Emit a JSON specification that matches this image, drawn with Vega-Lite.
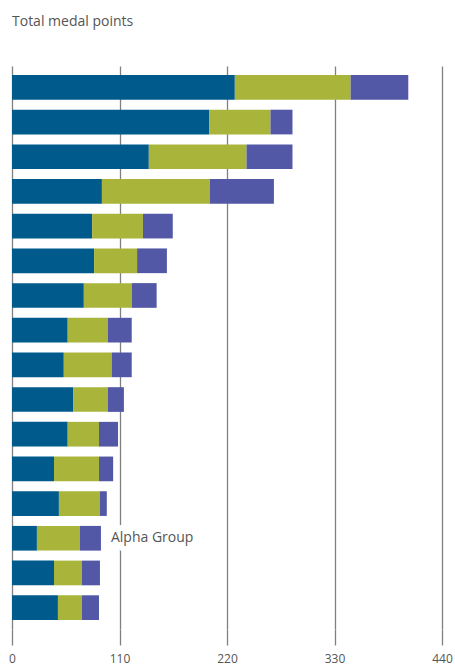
{
  "$schema": "https://vega.github.io/schema/vega-lite/v6.json",
  "width": 430,
  "height": 563,
  "autosize": "none",
  "padding": {"left": 12, "top": 66, "right": 13, "bottom": 38},
  "background": "white",
  "title": {
    "text": "Total medal points",
    "anchor": "start",
    "frame": "group",
    "orient": "top",
    "offset": 26,
    "baseline": "alphabetic",
    "font": "Open Sans",
    "fontSize": 14,
    "fontWeight": "normal",
    "color": "#555555"
  },
  "config": {
    "view": {"stroke": null},
    "font": "Open Sans"
  },
  "data": {
    "values": [
      {"team": "Team 1", "medal": "Gold", "points": 228},
      {"team": "Team 1", "medal": "Silver", "points": 118.5},
      {"team": "Team 1", "medal": "Bronze", "points": 59},
      {"team": "Team 2", "medal": "Gold", "points": 202},
      {"team": "Team 2", "medal": "Silver", "points": 62.5},
      {"team": "Team 2", "medal": "Bronze", "points": 22.5},
      {"team": "Team 3", "medal": "Gold", "points": 140},
      {"team": "Team 3", "medal": "Silver", "points": 100},
      {"team": "Team 3", "medal": "Bronze", "points": 47},
      {"team": "Team 4", "medal": "Gold", "points": 92},
      {"team": "Team 4", "medal": "Silver", "points": 110.5},
      {"team": "Team 4", "medal": "Bronze", "points": 65.5},
      {"team": "Team 5", "medal": "Gold", "points": 82},
      {"team": "Team 5", "medal": "Silver", "points": 52},
      {"team": "Team 5", "medal": "Bronze", "points": 30.5},
      {"team": "Team 6", "medal": "Gold", "points": 84},
      {"team": "Team 6", "medal": "Silver", "points": 44},
      {"team": "Team 6", "medal": "Bronze", "points": 30.5},
      {"team": "Team 7", "medal": "Gold", "points": 73.5},
      {"team": "Team 7", "medal": "Silver", "points": 49},
      {"team": "Team 7", "medal": "Bronze", "points": 25.5},
      {"team": "Team 8", "medal": "Gold", "points": 57},
      {"team": "Team 8", "medal": "Silver", "points": 41},
      {"team": "Team 8", "medal": "Bronze", "points": 24.5},
      {"team": "Team 9", "medal": "Gold", "points": 53},
      {"team": "Team 9", "medal": "Silver", "points": 49},
      {"team": "Team 9", "medal": "Bronze", "points": 20.5},
      {"team": "Team 10", "medal": "Gold", "points": 62.5},
      {"team": "Team 10", "medal": "Silver", "points": 35.5},
      {"team": "Team 10", "medal": "Bronze", "points": 16.5},
      {"team": "Team 11", "medal": "Gold", "points": 57},
      {"team": "Team 11", "medal": "Silver", "points": 32},
      {"team": "Team 11", "medal": "Bronze", "points": 19.5},
      {"team": "Team 12", "medal": "Gold", "points": 43},
      {"team": "Team 12", "medal": "Silver", "points": 46},
      {"team": "Team 12", "medal": "Bronze", "points": 14.5},
      {"team": "Team 13", "medal": "Gold", "points": 48},
      {"team": "Team 13", "medal": "Silver", "points": 42},
      {"team": "Team 13", "medal": "Bronze", "points": 7},
      {"team": "Alpha Group", "medal": "Gold", "points": 25.5},
      {"team": "Alpha Group", "medal": "Silver", "points": 44},
      {"team": "Alpha Group", "medal": "Bronze", "points": 21.5},
      {"team": "Team 15", "medal": "Gold", "points": 43},
      {"team": "Team 15", "medal": "Silver", "points": 28.5},
      {"team": "Team 15", "medal": "Bronze", "points": 18.5},
      {"team": "Team 16", "medal": "Gold", "points": 47},
      {"team": "Team 16", "medal": "Silver", "points": 24.5},
      {"team": "Team 16", "medal": "Bronze", "points": 17.5}
    ]
  },
  "encoding": {
    "y": {
      "field": "team",
      "type": "nominal",
      "sort": null,
      "axis": null,
      "scale": {"paddingInner": 0.288, "paddingOuter": 0.26}
    }
  },
  "layer": [
    {
      "transform": [
        {"calculate": "indexof(['Gold','Silver','Bronze'], datum.medal)", "as": "medalOrder"}
      ],
      "mark": {"type": "bar"},
      "encoding": {
        "x": {
          "field": "points",
          "type": "quantitative",
          "stack": "zero",
          "scale": {"domain": [0, 440], "nice": false},
          "axis": {
            "values": [0, 110, 220, 330, 440],
            "title": null,
            "grid": true,
            "gridColor": "#808080",
            "gridWidth": 1.3,
            "gridOpacity": 1,
            "domain": false,
            "ticks": true,
            "tickSize": 16,
            "tickColor": "#808080",
            "tickWidth": 1.3,
            "labelPadding": 8,
            "labelFont": "Open Sans",
            "labelFontSize": 12,
            "labelColor": "#555555",
            "labelFlush": false
          }
        },
        "color": {
          "field": "medal",
          "type": "nominal",
          "scale": {"domain": ["Gold", "Silver", "Bronze"], "range": ["#005A8C", "#A8B53A", "#5257A6"]},
          "legend": null
        },
        "order": {"field": "medalOrder", "type": "quantitative", "sort": "ascending"}
      }
    },
    {
      "transform": [
        {"aggregate": [{"op": "sum", "field": "points", "as": "total"}], "groupby": ["team"]},
        {"filter": "datum.team == 'Alpha Group'"}
      ],
      "mark": {"type": "text", "align": "left", "baseline": "middle", "dx": 10, "fontSize": 14, "font": "Open Sans", "stroke": "white", "strokeWidth": 12, "strokeJoin": "round", "fill": "white"},
      "encoding": {
        "x": {"field": "total", "type": "quantitative"},
        "text": {"field": "team"}
      }
    },
    {
      "transform": [
        {"aggregate": [{"op": "sum", "field": "points", "as": "total"}], "groupby": ["team"]},
        {"filter": "datum.team == 'Alpha Group'"}
      ],
      "mark": {"type": "text", "align": "left", "baseline": "middle", "dx": 10, "fontSize": 14, "font": "Open Sans", "color": "#555555"},
      "encoding": {
        "x": {"field": "total", "type": "quantitative"},
        "text": {"field": "team"}
      }
    }
  ]
}
